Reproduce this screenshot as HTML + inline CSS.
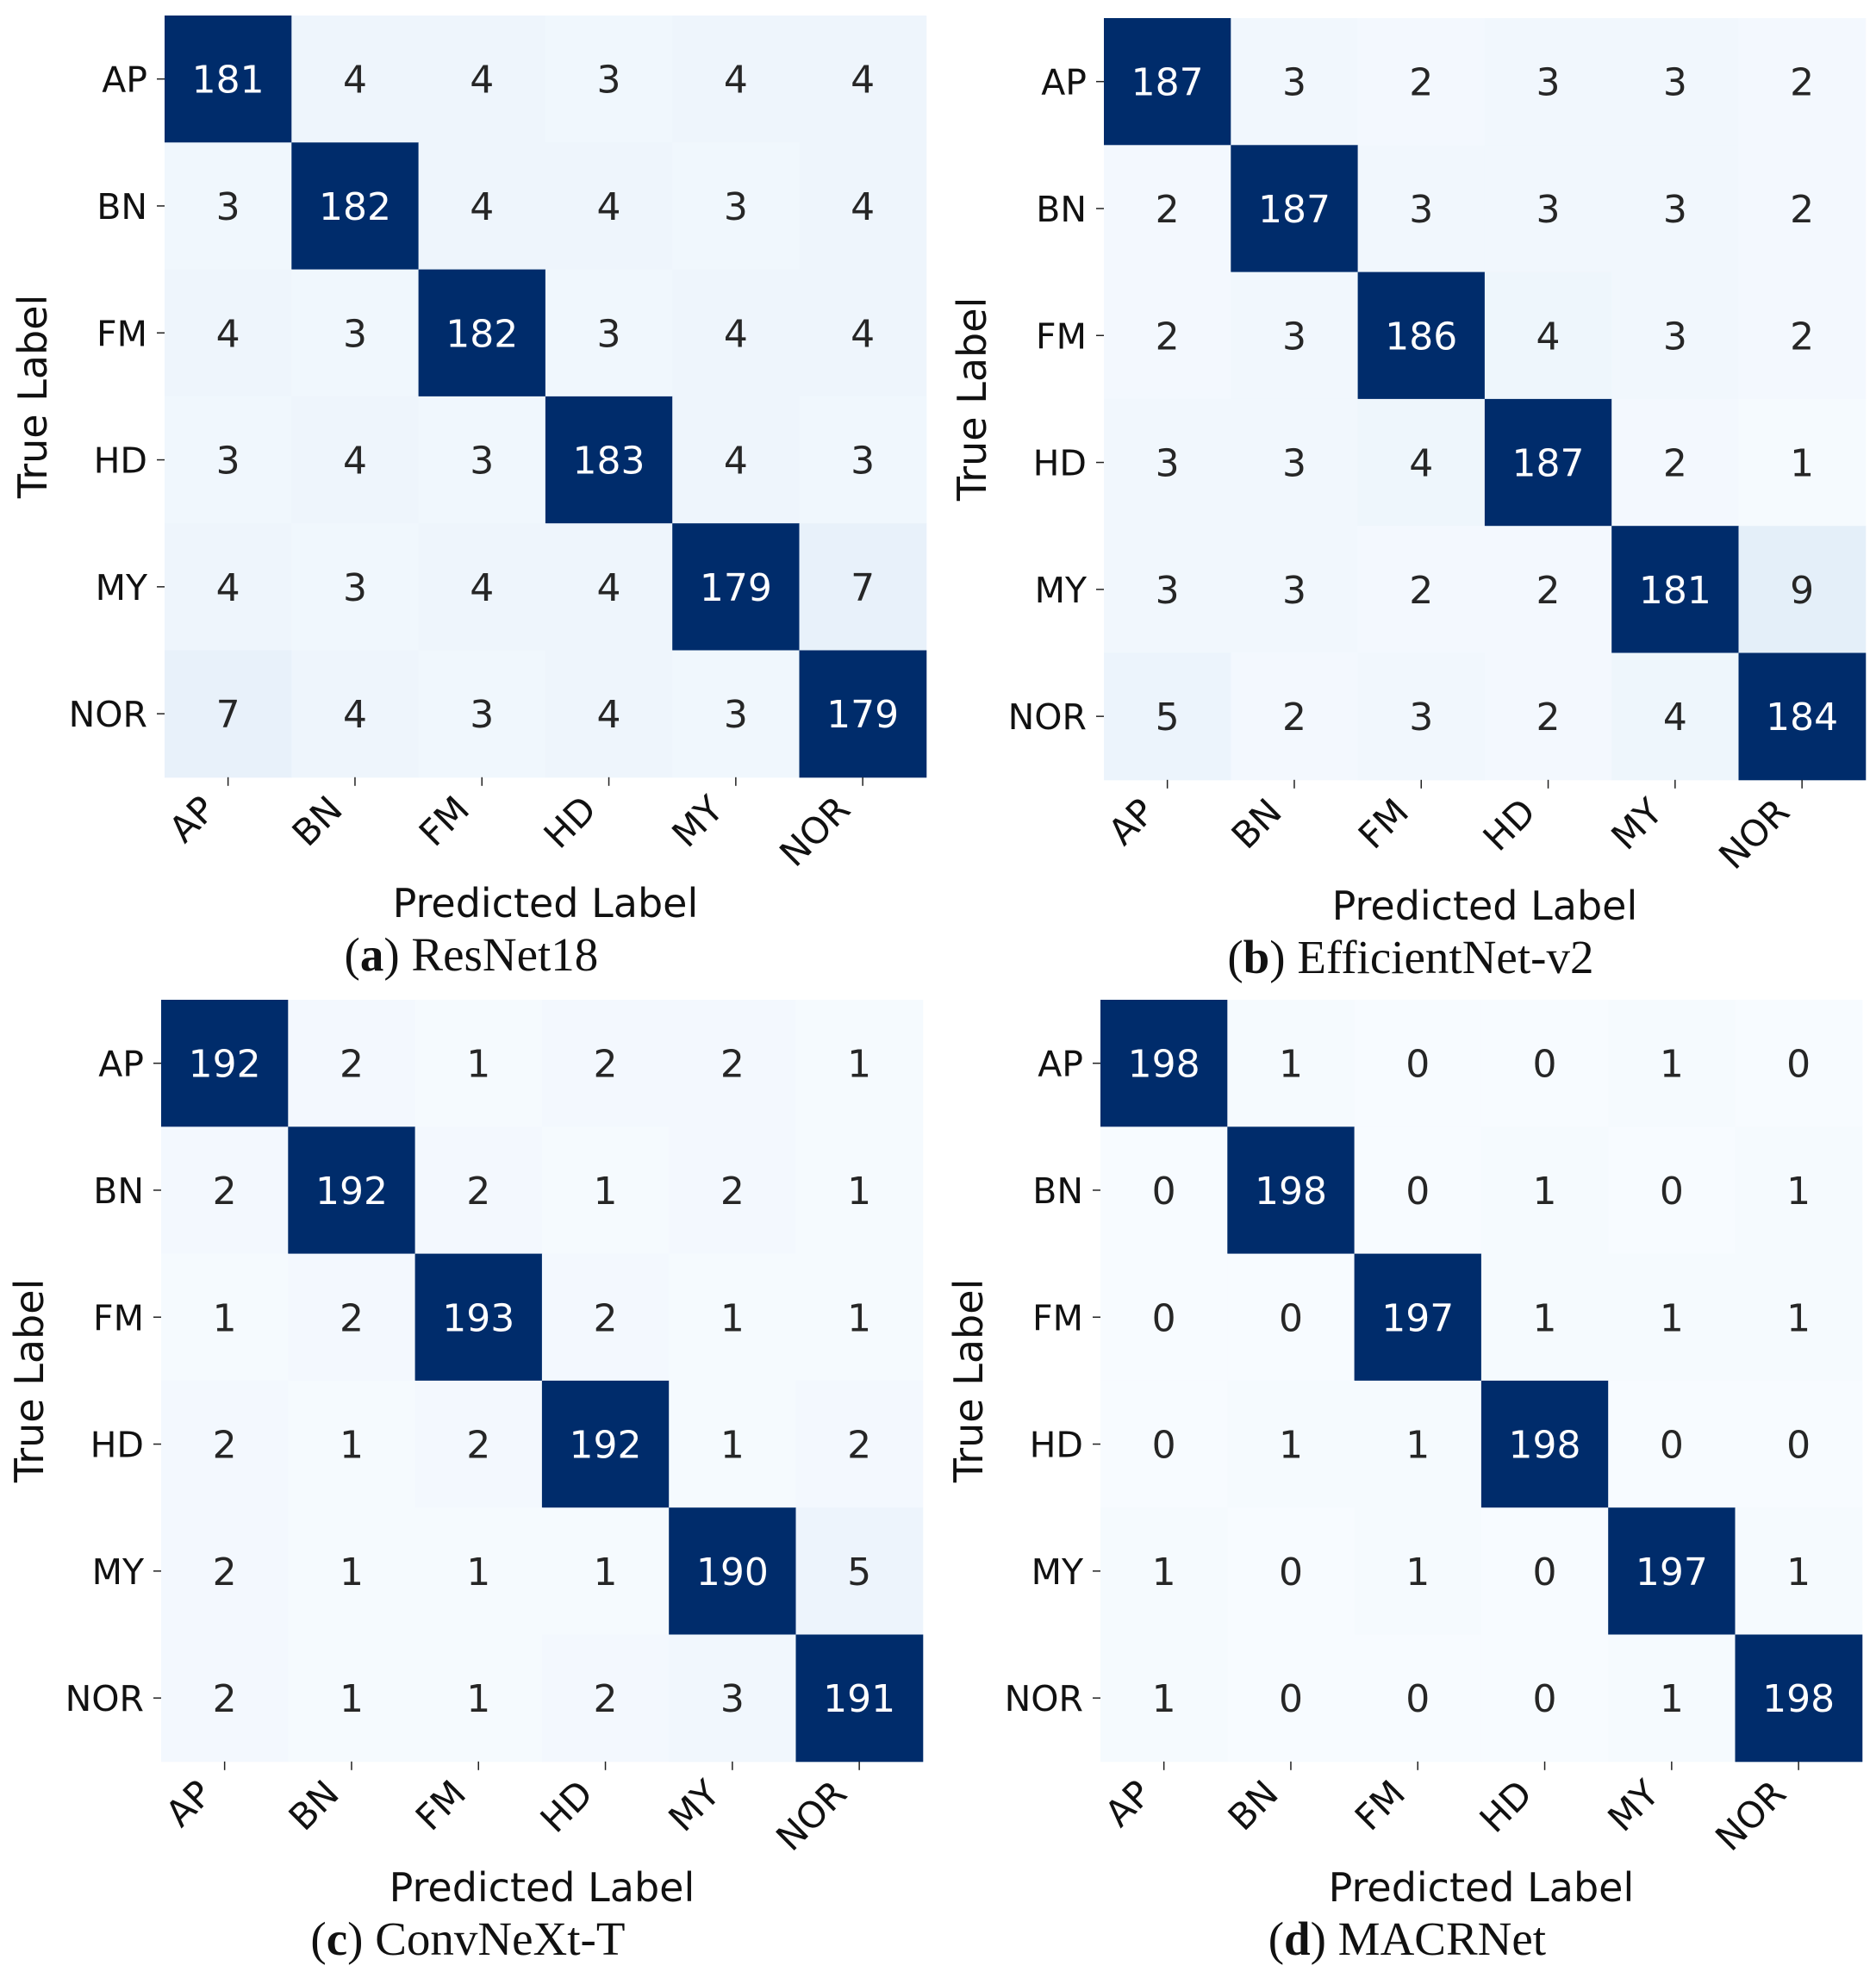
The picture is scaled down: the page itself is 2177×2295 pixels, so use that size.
<!DOCTYPE html>
<html><head><meta charset="utf-8"><style>
html,body{margin:0;padding:0;background:#fff;}
svg{display:block;}
</style></head><body>
<svg id="fig" width="2177" height="2295" viewBox="0 0 2177 2295" xmlns="http://www.w3.org/2000/svg"></svg>
<script>
const labels = ["AP","BN","FM","HD","MY","NOR"];
const resnetValues = [
 [181,4,4,3,4,4],[3,182,4,4,3,4],[4,3,182,3,4,4],[3,4,3,183,4,3],[4,3,4,4,179,7],[7,4,3,4,3,179]];
const effnetValues = [
 [187,3,2,3,3,2],[2,187,3,3,3,2],[2,3,186,4,3,2],[3,3,4,187,2,1],[3,3,2,2,181,9],[5,2,3,2,4,184]];
const convnextValues = [
 [192,2,1,2,2,1],[2,192,2,1,2,1],[1,2,193,2,1,1],[2,1,2,192,1,2],[2,1,1,1,190,5],[2,1,1,2,3,191]];
const macrnetValues = [
 [198,1,0,0,1,0],[0,198,0,1,0,1],[0,0,197,1,1,1],[0,1,1,198,0,0],[1,0,1,0,197,1],[1,0,0,0,1,198]];
const captionLetters = ["a","b","c","d"];
const captionNames = ["ResNet18","EfficientNet-v2","ConvNeXt-T","MACRNet"];

const panels = [
 {vals:resnetValues, x:191, y:18, cap:0},
 {vals:effnetValues, x:1281, y:21, cap:1},
 {vals:convnextValues, x:187, y:1160, cap:2},
 {vals:macrnetValues, x:1277, y:1160, cap:3}
];
const CELL = 147.3;
const NS = "http://www.w3.org/2000/svg";
const svg = document.getElementById('fig');
function mk(tag, attrs, parent){const e=document.createElementNS(NS,tag);for(const k in attrs)e.setAttribute(k,attrs[k]);(parent||svg).appendChild(e);return e;}
function lerp(a,b,t){return Math.round(a+(b-a)*t);}
function colorFor(v,max){
  const t=v/max;
  if(t>0.5) return '#002c6b';
  const s=Math.min(1,t/0.0625);
  return `rgb(${lerp(247,222,s)},${lerp(251,235,s)},${lerp(255,247,s)})`;
}
const SANS='"DejaVu Sans","Liberation Sans",sans-serif';
const SERIF='"Liberation Serif","DejaVu Serif",serif';
panels.forEach((p,pi)=>{
  const g=mk('g',{});
  
  
  let max=0;p.vals.forEach(r=>r.forEach(v=>{if(v>max)max=v;}));
  const xs=i=>p.x+i*CELL, ys=j=>p.y+j*CELL;
  p.vals.forEach((row,r)=>row.forEach((v,c)=>{
    const rect=mk('rect',{x:xs(c),y:ys(r),width:CELL+0.5,height:CELL+0.5,fill:colorFor(v,max)},g);
    
    
    const t=mk('text',{x:xs(c)+CELL/2,y:ys(r)+CELL/2+16,'text-anchor':'middle','font-family':SANS,'font-size':44,fill:(v/max>0.5)?'#ffffff':'#262626'},g);
    t.textContent=v;
    
    
  }));
  const bottom=p.y+6*CELL;
  labels.forEach((l,i)=>{
    const cy=ys(i)+CELL/2;
    mk('line',{x1:p.x-9,y1:cy,x2:p.x,y2:cy,stroke:'#222','stroke-width':1.5},g);
    const t=mk('text',{x:p.x-20,y:cy+15,'text-anchor':'end','font-family':SANS,'font-size':41,fill:'#111'},g);
    t.textContent=l;
    
    
    const cx=xs(i)+CELL/2;
    mk('line',{x1:cx,y1:bottom,x2:cx,y2:bottom+10,stroke:'#222','stroke-width':1.5},g);
    const tx=cx-32, ty=bottom+20;
    const t2=mk('text',{x:tx,y:ty,'text-anchor':'end','font-family':SANS,'font-size':42,fill:'#111',transform:`rotate(-45 ${tx} ${ty}) translate(0 28)`},g);
    t2.textContent=l;
    
    
  });
  const midX=p.x+3*CELL, midY=p.y+3*CELL;
  const xt=mk('text',{x:midX,y:bottom+162,'text-anchor':'middle','font-family':SANS,'font-size':46,fill:'#111'},g);
  xt.textContent='Predicted Label';
  
  
  const yx=p.x-137;
  const yt=mk('text',{x:yx,y:midY,'text-anchor':'middle','font-family':SANS,'font-size':46,fill:'#111',transform:`rotate(-90 ${yx} ${midY})`},g);
  yt.textContent='True Label';
  
  
  const cap=mk('text',{x:midX-86,y:bottom+224,'text-anchor':'middle','font-family':SERIF,'font-size':55,fill:'#111'},g);
  
  
  const b=document.createElementNS(NS,'tspan');b.textContent='(';cap.appendChild(b);
  const bl=document.createElementNS(NS,'tspan');bl.setAttribute('font-weight','bold');bl.textContent=captionLetters[p.cap];cap.appendChild(bl);
  const rest=document.createElementNS(NS,'tspan');rest.textContent=') '+captionNames[p.cap];cap.appendChild(rest);
});
</script>
</body></html>
